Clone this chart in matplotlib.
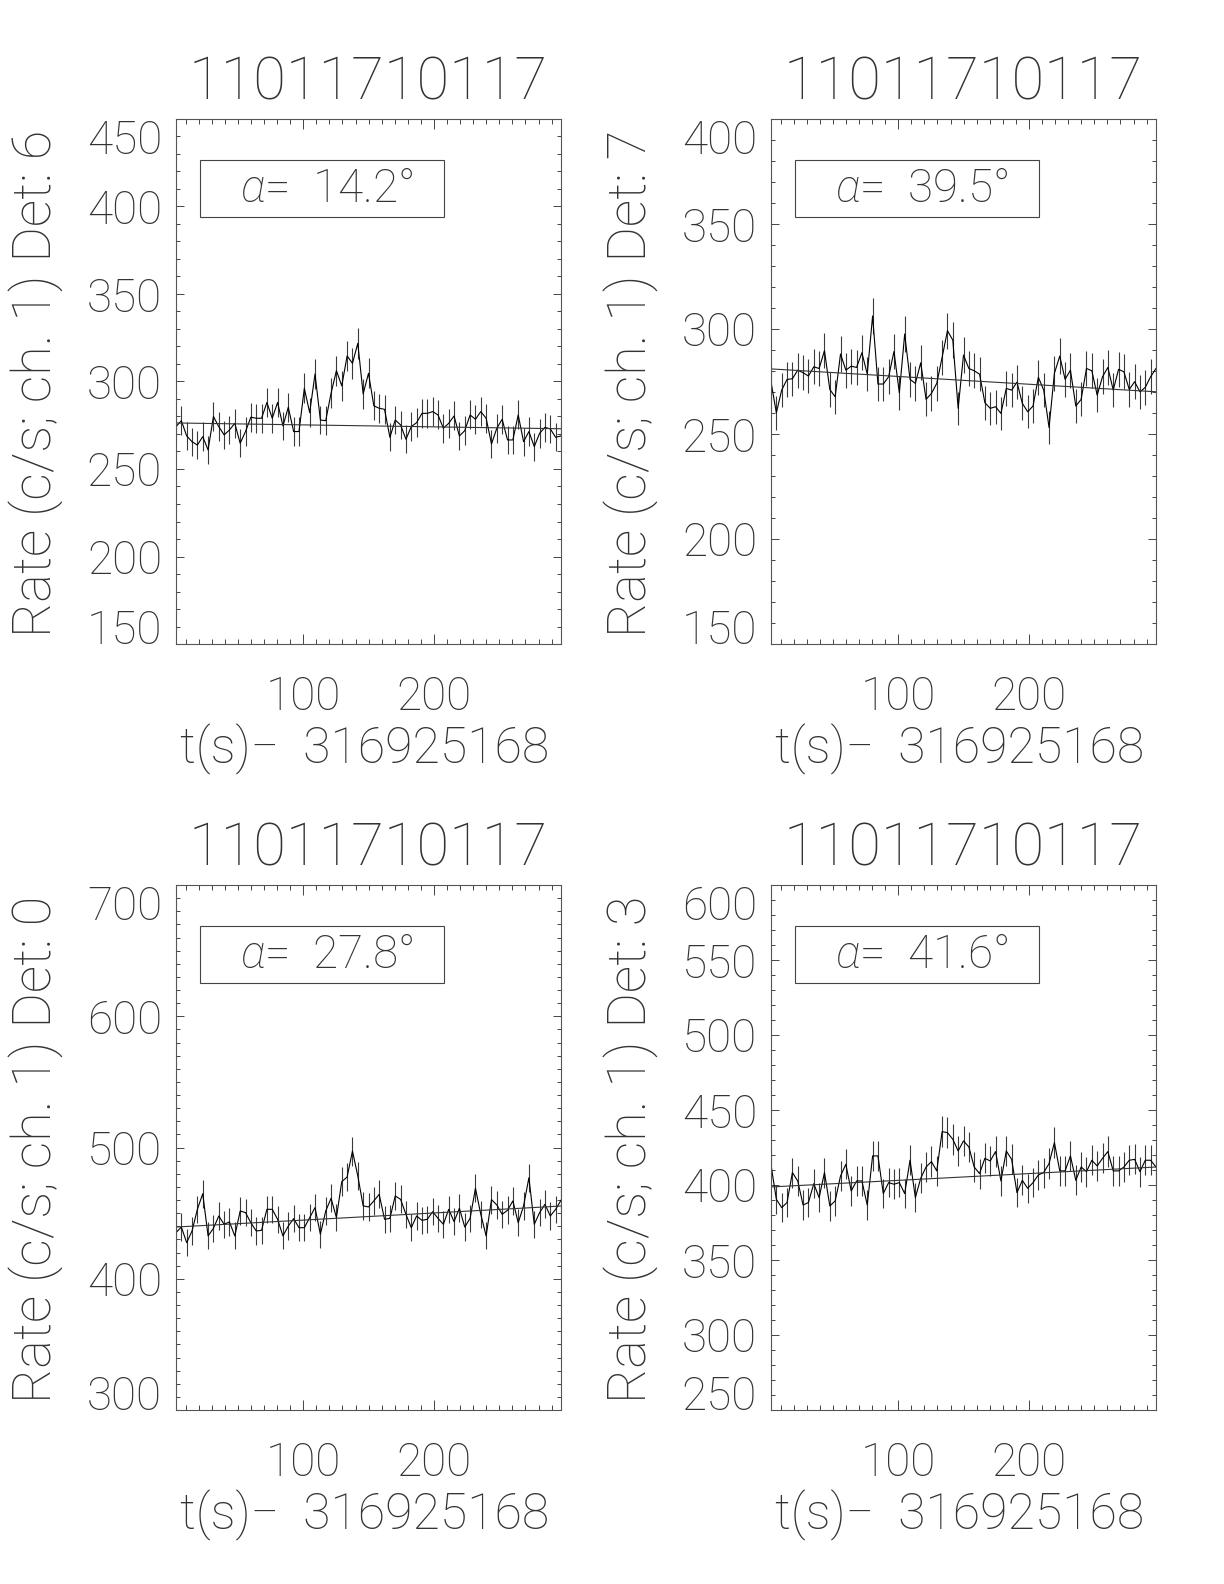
import numpy as np
import matplotlib
matplotlib.use("Agg")
import matplotlib.pyplot as plt
from matplotlib.ticker import MultipleLocator
from matplotlib.patches import Rectangle

FONT = ['Roboto', 'DejaVu Sans']
plt.rcParams['font.family'] = FONT
plt.rcParams['font.weight'] = 'light'
plt.rcParams['mathtext.fontset'] = 'custom'
plt.rcParams['mathtext.it'] = 'Roboto:italic:light'
plt.rcParams['mathtext.rm'] = 'Roboto:light'

# ---------------- data ----------------
obs_id = "11011710117"
t_offset = "316925168"
t_start, t_stop = 2.6, 297.2          # seconds after offset
n_bins = 73
bin_width = (t_stop - t_start) / (n_bins - 1)

detectors = [6, 7, 0, 3]
alphas = [14.2, 39.5, 27.8, 41.6]

rate_det6 = [274.2, 277.6, 268.9, 265.6, 263.7, 268.5, 260.9, 280.0, 274.2, 269.5,
             272.3, 276.1, 264.7, 271.4, 279.6, 279.0, 279.0, 288.0, 279.0, 288.0,
             274.6, 285.3, 271.4, 271.4, 296.1, 282.2, 304.3, 278.0, 277.6, 293.3,
             306.2, 297.5, 314.6, 310.4, 321.8, 292.9, 304.7, 286.1, 284.7, 284.1,
             268.1, 278.0, 275.2, 267.0, 274.2, 276.5, 281.8, 281.8, 282.8, 280.9,
             273.3, 276.1, 280.3, 268.9, 271.9, 280.9, 278.4, 282.8, 279.0, 264.3,
             273.3, 278.4, 266.6, 266.6, 280.9, 265.6, 271.4, 262.8, 270.4, 273.8,
             272.9, 268.1, 268.9]
rate_det7 = [274.9, 260.1, 270.9, 276.0, 276.3, 280.4, 279.2, 277.6, 282.0, 281.2,
             289.7, 271.2, 267.7, 288.1, 280.4, 282.3, 281.7, 288.7, 278.5, 306.2,
             273.8, 273.8, 277.3, 289.3, 269.6, 297.6, 276.0, 274.1, 283.9, 266.5,
             269.3, 274.1, 286.5, 299.2, 294.7, 262.2, 287.6, 281.2, 280.1, 278.5,
             264.9, 262.2, 263.0, 259.8, 271.7, 270.9, 274.7, 264.6, 260.6, 263.3,
             277.0, 270.9, 253.1, 278.9, 287.1, 276.0, 280.4, 263.3, 266.5, 281.2,
             280.1, 268.5, 277.3, 281.7, 270.9, 280.8, 279.6, 271.2, 274.9, 270.1,
             272.2, 277.3, 281.2]
rate_det0 = [435.1, 439.4, 427.5, 436.4, 452.9, 464.8, 432.6, 438.4, 447.8, 441.5,
             443.3, 432.6, 451.6, 450.4, 442.7, 436.4, 436.9, 452.9, 452.9, 445.3,
             432.6, 440.2, 445.8, 438.9, 438.9, 446.6, 454.2, 433.9, 451.6, 461.3,
             446.6, 474.0, 477.5, 497.3, 478.3, 455.5, 454.7, 459.3, 464.3, 445.3,
             446.0, 463.1, 460.5, 449.1, 438.9, 447.8, 444.5, 445.3, 451.1, 446.0,
             441.5, 452.9, 443.5, 453.7, 439.4, 446.0, 468.9, 449.1, 432.6, 460.3,
             456.2, 449.1, 452.2, 459.3, 442.7, 455.5, 477.0, 441.5, 450.4, 456.7,
             447.8, 452.9, 459.8]
rate_det3 = [413.4, 390.5, 384.9, 388.3, 408.3, 402.7, 386.7, 388.3, 400.9, 391.6,
             408.3, 386.0, 389.4, 406.0, 413.8, 396.0, 402.7, 402.7, 386.7, 419.4,
             419.4, 394.3, 401.6, 400.5, 401.6, 394.3, 416.5, 391.6, 404.5, 412.0,
             415.6, 409.4, 435.6, 434.9, 430.5, 422.7, 429.4, 425.4, 412.0, 407.6,
             417.8, 416.0, 422.3, 402.7, 422.7, 417.1, 394.9, 403.1, 397.8, 401.6,
             406.7, 408.3, 414.3, 428.3, 409.4, 409.4, 419.4, 403.1, 412.0, 408.9,
             416.5, 412.7, 417.8, 422.3, 409.4, 409.4, 412.0, 416.5, 417.1, 408.9,
             416.5, 416.5, 412.0]
rates = [rate_det6, rate_det7, rate_det0, rate_det3]

# linear background fit: value at start, value at end
fits = [(276.3, 273.0), (281.0, 270.1), (439.4, 455.4), (398.7, 412.0)]

# axis ranges and tick steps
ylims = [(150, 450), (150, 400), (300, 700), (250, 600)]
ymajor = [50, 50, 100, 50]

# ---------------- layout ----------------
W, H = 1224, 1584
fig = plt.figure(figsize=(W / 100, H / 100), dpi=100)
ax_w, ax_h = 385, 525
lefts = [176, 771, 176, 771]
bottoms = [644, 644, 1410, 1410]
txt = '#333333'

t = np.linspace(t_start, t_stop, n_bins)
for i in range(4):
    ax = fig.add_axes([lefts[i] / W, (H - bottoms[i]) / H, ax_w / W, ax_h / H])
    r = np.array(rates[i])
    err = np.sqrt(r * bin_width) / bin_width
    ax.vlines(t, r - err, r + err, color='#3a3a3a', lw=0.8)
    ax.plot(t, r, color='black', lw=0.8)
    ax.plot([t_start, t_stop], fits[i], color='#333333', lw=0.8)
    ax.set_xlim(t_start, t_stop)
    ax.set_ylim(*ylims[i])
    ax.xaxis.set_major_locator(MultipleLocator(100))
    ax.xaxis.set_minor_locator(MultipleLocator(10))
    ax.yaxis.set_major_locator(MultipleLocator(ymajor[i]))
    ax.yaxis.set_minor_locator(MultipleLocator(10))
    ax.tick_params(axis='both', which='both', direction='in', top=True, right=True,
                   color='#444444', width=0.7)
    ax.tick_params(axis='x', which='major', length=7.5, pad=22, labelsize=33)
    ax.tick_params(axis='x', which='minor', length=3.7)
    ax.tick_params(axis='y', which='major', length=5.5, pad=10, labelsize=33)
    ax.tick_params(axis='y', which='minor', length=2.8)
    fig.canvas.draw()
    for lab in ax.get_xticklabels() + ax.get_yticklabels():
        lab.set_color(txt)
        lab.set_fontweight('light')
    # IDL keeps the end labels inside the axis height
    ylo, yhi = ylims[i]
    for tick in ax.yaxis.get_major_ticks():
        v = tick.get_loc()
        if abs(v - yhi) < 1e-6:
            tick.label1.set_va('top')
        elif abs(v - ylo) < 1e-6:
            tick.label1.set_va('baseline')
    for s in ax.spines.values():
        s.set_color('#555555')
        s.set_linewidth(0.8)
    ax.text(0.5, 1.068, obs_id, transform=ax.transAxes, ha='center', va='center',
            fontsize=43, color=txt, fontweight='light')
    ax.set_ylabel(f"Rate (c/s; ch. 1) Det: {detectors[i]}", fontsize=39,
                  color=txt, fontweight='light')
    ax.yaxis.set_label_coords(-0.291, 0.497)
    ax.set_xlabel(f"t(s)\u2212  {t_offset}", fontsize=36, color=txt,
                  fontweight='light')
    ax.xaxis.set_label_coords(0.49, -0.152)
    ax.add_patch(Rectangle((0.062, 0.813), 0.634, 0.1086, transform=ax.transAxes,
                           fill=False, ec='#444444', lw=0.8))
    ax.text(0.392, 0.867, r"$\alpha$" + f"=  {alphas[i]:.1f}°", transform=ax.transAxes,
            ha='center', va='center', fontsize=33, color=txt, fontweight='light')

fig.savefig("out.png", dpi=100, facecolor='white')
